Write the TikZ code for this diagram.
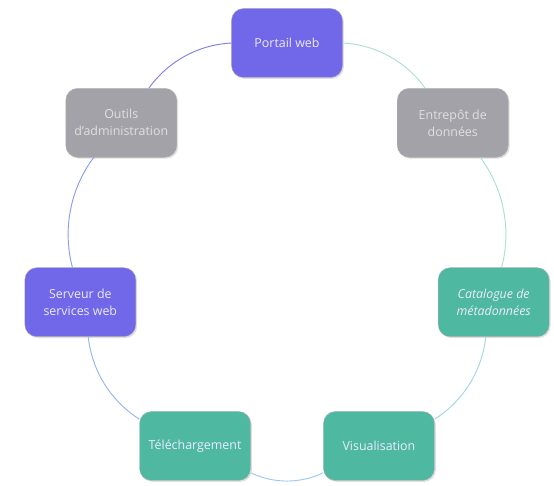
\documentclass[tikz,border=0pt]{standalone}
\usepackage{fontspec}
\setmainfont{Open Sans}
\usetikzlibrary{shadows,calc}
\definecolor{violetbox}{RGB}{112,104,232}
\definecolor{graybox}{RGB}{163,162,168}
\definecolor{tealbox}{RGB}{78,184,160}
\definecolor{ringA}{RGB}{168,224,214}
\definecolor{ringB}{RGB}{160,216,222}
\definecolor{ringC}{RGB}{158,200,238}
\definecolor{ringD}{RGB}{150,180,238}
\definecolor{ringE}{RGB}{140,156,236}
\definecolor{ringF}{RGB}{128,128,226}
\begin{document}
\begin{tikzpicture}[x=0.03cm, y=0.03cm,
    stage/.style={rectangle, rounded corners=0.36cm, minimum width=3.33cm, minimum height=2.07cm,
        align=center, font=\fontsize{10.6}{14.5}\selectfont, text=white!92!blue,
        draw=white!70!black, line width=0.3pt,
        drop shadow={opacity=0.25, shadow xshift=1.2pt, shadow yshift=-1.2pt}},
    ring/.style={line width=0.8pt, bend left=25.7, looseness=0.9}]
    \useasboundingbox (0,0) rectangle (554,486);
    \coordinate (hub) at (287,231);
    % the seven stages, clockwise from the top
    \node[stage, fill=violetbox] (portail) at ($(hub)+(90:212)$) {Portail web};
    \node[stage, fill=graybox, text=white!88!black] (entrepot) at ($(hub)+(38.57:212)$) {Entrepôt de\\données};
    \node[stage, fill=tealbox, font=\fontsize{10.6}{14.5}\selectfont\itshape] (catalogue) at ($(hub)+(-12.86:212)$) {Catalogue de\\métadonnées};
    \node[stage, fill=tealbox] (visu) at ($(hub)+(-64.29:212)$) {Visualisation};
    \node[stage, fill=tealbox] (telechargement) at ($(hub)+(-115.71:212)$) {Téléchargement};
    \node[stage, fill=violetbox] (serveur) at ($(hub)+(-167.14:212)$) {Serveur de\\services web};
    \node[stage, fill=graybox, text=white!88!black] (outils) at ($(hub)+(141.43:212)$) {Outils\\d'administration};
    % ring
    \draw[ring, ringA] (portail) to (entrepot);
    \draw[ring, ringA] (entrepot) to (catalogue);
    \draw[ring, ringB] (catalogue) to (visu);
    \draw[ring, ringC] (visu) to (telechargement);
    \draw[ring, ringD] (telechargement) to (serveur);
    \draw[ring, ringE] (serveur) to (outils);
    \draw[ring, ringF] (outils) to (portail);
\end{tikzpicture}
\end{document}
